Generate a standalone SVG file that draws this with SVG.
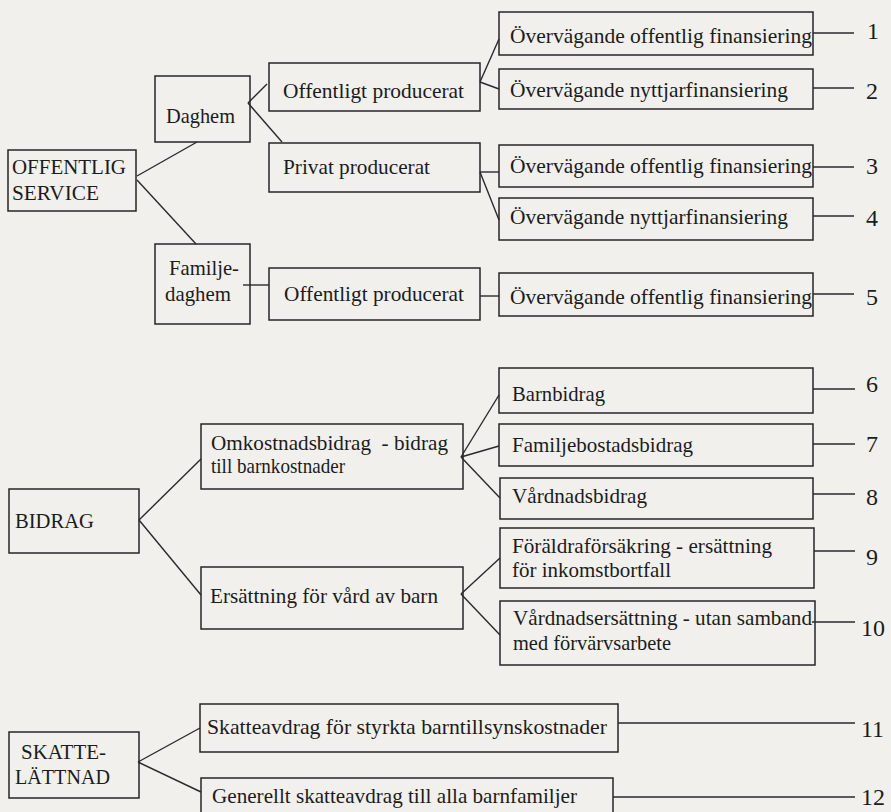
<svg xmlns="http://www.w3.org/2000/svg" width="891" height="812" viewBox="0 0 891 812">
<style>
.bx{fill:none;stroke:#262626;stroke-width:1.5}
.t{font-family:"Liberation Serif","Times New Roman",serif;font-size:21.5px;fill:#1c1c1c}
.n{font-family:"Liberation Serif","Times New Roman",serif;font-size:24px;fill:#1c1c1c}
.c line{stroke:#2a2a2a;stroke-width:1.4}
</style>
<rect width="891" height="812" fill="#f1f0ed"/>

<g id="offentlig-service"><rect class="bx" x="8" y="150" width="128" height="61"/><text class="t" x="12" y="174" textLength="114" lengthAdjust="spacingAndGlyphs">OFFENTLIG</text><text class="t" x="12" y="200" textLength="87" lengthAdjust="spacingAndGlyphs">SERVICE</text></g>
<g id="daghem"><rect class="bx" x="155" y="76" width="95" height="66"/><text class="t" x="166" y="123" textLength="69" lengthAdjust="spacingAndGlyphs">Daghem</text></g>
<g id="familjedaghem"><rect class="bx" x="155" y="244" width="95" height="80"/><text class="t" x="169" y="275" textLength="70" lengthAdjust="spacingAndGlyphs">Familje-</text><text class="t" x="165" y="301" textLength="66" lengthAdjust="spacingAndGlyphs">daghem</text></g>
<g id="off-prod-1"><rect class="bx" x="269" y="63" width="211" height="48"/><text class="t" x="283" y="98" textLength="181" lengthAdjust="spacingAndGlyphs">Offentligt producerat</text></g>
<g id="privat-prod"><rect class="bx" x="269" y="143" width="211" height="49"/><text class="t" x="283" y="174" textLength="147" lengthAdjust="spacingAndGlyphs">Privat producerat</text></g>
<g id="off-prod-2"><rect class="bx" x="269" y="268" width="211" height="52"/><text class="t" x="284" y="301" textLength="180" lengthAdjust="spacingAndGlyphs">Offentligt producerat</text></g>

<g id="box1"><rect class="bx" x="499" y="12" width="314" height="43"/><text class="t" x="510" y="43" textLength="302" lengthAdjust="spacingAndGlyphs">Övervägande offentlig finansiering</text></g>
<g id="box2"><rect class="bx" x="499" y="69" width="314" height="40"/><text class="t" x="510" y="97" textLength="278" lengthAdjust="spacingAndGlyphs">Övervägande nyttjarfinansiering</text></g>
<g id="box3"><rect class="bx" x="499" y="145" width="314" height="42"/><text class="t" x="510" y="173" textLength="302" lengthAdjust="spacingAndGlyphs">Övervägande offentlig finansiering</text></g>
<g id="box4"><rect class="bx" x="499" y="198" width="314" height="42"/><text class="t" x="510" y="224" textLength="278" lengthAdjust="spacingAndGlyphs">Övervägande nyttjarfinansiering</text></g>
<g id="box5"><rect class="bx" x="499" y="273" width="314" height="43"/><text class="t" x="510" y="304" textLength="302" lengthAdjust="spacingAndGlyphs">Övervägande offentlig finansiering</text></g>

<g id="bidrag"><rect class="bx" x="9" y="489" width="130" height="64"/><text class="t" x="15" y="528" textLength="79" lengthAdjust="spacingAndGlyphs">BIDRAG</text></g>
<g id="omkostnad"><rect class="bx" x="201" y="424" width="262" height="65"/><text class="t" x="211" y="450" textLength="237" lengthAdjust="spacingAndGlyphs" xml:space="preserve">Omkostnadsbidrag  - bidrag</text><text class="t" x="211" y="473" textLength="134" lengthAdjust="spacingAndGlyphs">till barnkostnader</text></g>
<g id="ersattning"><rect class="bx" x="201" y="567" width="262" height="62"/><text class="t" x="210" y="603" textLength="228" lengthAdjust="spacingAndGlyphs">Ersättning för vård av barn</text></g>
<g id="barnbidrag"><rect class="bx" x="499" y="368" width="314" height="45"/><text class="t" x="512" y="401" textLength="93" lengthAdjust="spacingAndGlyphs">Barnbidrag</text></g>
<g id="familjebostadsbidrag"><rect class="bx" x="499" y="424" width="314" height="42"/><text class="t" x="512" y="452" textLength="181" lengthAdjust="spacingAndGlyphs">Familjebostadsbidrag</text></g>
<g id="vardnadsbidrag"><rect class="bx" x="500" y="478" width="313" height="41"/><text class="t" x="512" y="503" textLength="135" lengthAdjust="spacingAndGlyphs">Vårdnadsbidrag</text></g>
<g id="foraldraforsakring"><rect class="bx" x="500" y="528" width="314" height="60"/><text class="t" x="512" y="553" textLength="260" lengthAdjust="spacingAndGlyphs">Föräldraförsäkring - ersättning</text><text class="t" x="512" y="577" textLength="159" lengthAdjust="spacingAndGlyphs">för inkomstbortfall</text></g>
<g id="vardnadsersattning"><rect class="bx" x="500" y="601" width="315" height="64"/><text class="t" x="513" y="625" textLength="299" lengthAdjust="spacingAndGlyphs">Vårdnadsersättning - utan samband</text><text class="t" x="513" y="650" textLength="158" lengthAdjust="spacingAndGlyphs">med förvärvsarbete</text></g>

<g id="skattelattnad"><rect class="bx" x="9" y="732" width="130" height="66"/><text class="t" x="21" y="759" textLength="85" lengthAdjust="spacingAndGlyphs">SKATTE-</text><text class="t" x="15" y="784" textLength="95" lengthAdjust="spacingAndGlyphs">LÄTTNAD</text></g>
<g id="skatteavdrag"><rect class="bx" x="200" y="704" width="418" height="48"/><text class="t" x="207" y="734" textLength="400" lengthAdjust="spacingAndGlyphs">Skatteavdrag för styrkta barntillsynskostnader</text></g>
<g id="generellt"><rect class="bx" x="201" y="778" width="412" height="60"/><text class="t" x="212" y="803" textLength="365" lengthAdjust="spacingAndGlyphs">Generellt skatteavdrag till alla barnfamiljer</text></g>

<g id="connectors" class="c">
<line x1="137" y1="176" x2="197" y2="142"/>
<line x1="137" y1="180" x2="196" y2="244"/>
<line x1="248" y1="103" x2="267" y2="84"/>
<line x1="248" y1="103" x2="282" y2="142"/>
<line x1="243" y1="285" x2="269" y2="285"/>
<line x1="480" y1="82" x2="499" y2="39"/>
<line x1="480" y1="82" x2="499" y2="89"/>
<line x1="480" y1="172" x2="499" y2="172"/>
<line x1="480" y1="172" x2="499" y2="220"/>
<line x1="480" y1="296" x2="499" y2="296"/>
<line x1="139" y1="520" x2="201" y2="459"/>
<line x1="139" y1="520" x2="201" y2="595"/>
<line x1="461" y1="457" x2="499" y2="395"/>
<line x1="461" y1="457" x2="499" y2="446"/>
<line x1="461" y1="457" x2="500" y2="498"/>
<line x1="461" y1="594" x2="500" y2="558"/>
<line x1="461" y1="594" x2="500" y2="635"/>
<line x1="138" y1="762" x2="200" y2="728"/>
<line x1="138" y1="762" x2="201" y2="792"/>
<line x1="813" y1="33" x2="854" y2="33"/>
<line x1="813" y1="88" x2="854" y2="88"/>
<line x1="813" y1="167" x2="854" y2="167"/>
<line x1="813" y1="216" x2="854" y2="216"/>
<line x1="813" y1="294" x2="854" y2="294"/>
<line x1="813" y1="389" x2="855" y2="389"/>
<line x1="813" y1="444" x2="855" y2="444"/>
<line x1="813" y1="494" x2="855" y2="494"/>
<line x1="814" y1="551" x2="855" y2="551"/>
<line x1="812" y1="622" x2="855" y2="622"/>
<line x1="618" y1="723" x2="855" y2="723"/>
<line x1="613" y1="797" x2="855" y2="797"/>
</g>

<g id="numbers">
<text class="n" x="867" y="39">1</text>
<text class="n" x="866" y="99">2</text>
<text class="n" x="866" y="174">3</text>
<text class="n" x="866" y="226">4</text>
<text class="n" x="866" y="305">5</text>
<text class="n" x="866" y="392">6</text>
<text class="n" x="866" y="452">7</text>
<text class="n" x="866" y="505">8</text>
<text class="n" x="866" y="565">9</text>
<text class="n" x="861" y="636">10</text>
<text class="n" x="861" y="737">11</text>
<text class="n" x="861" y="805">12</text>
</g>
</svg>
